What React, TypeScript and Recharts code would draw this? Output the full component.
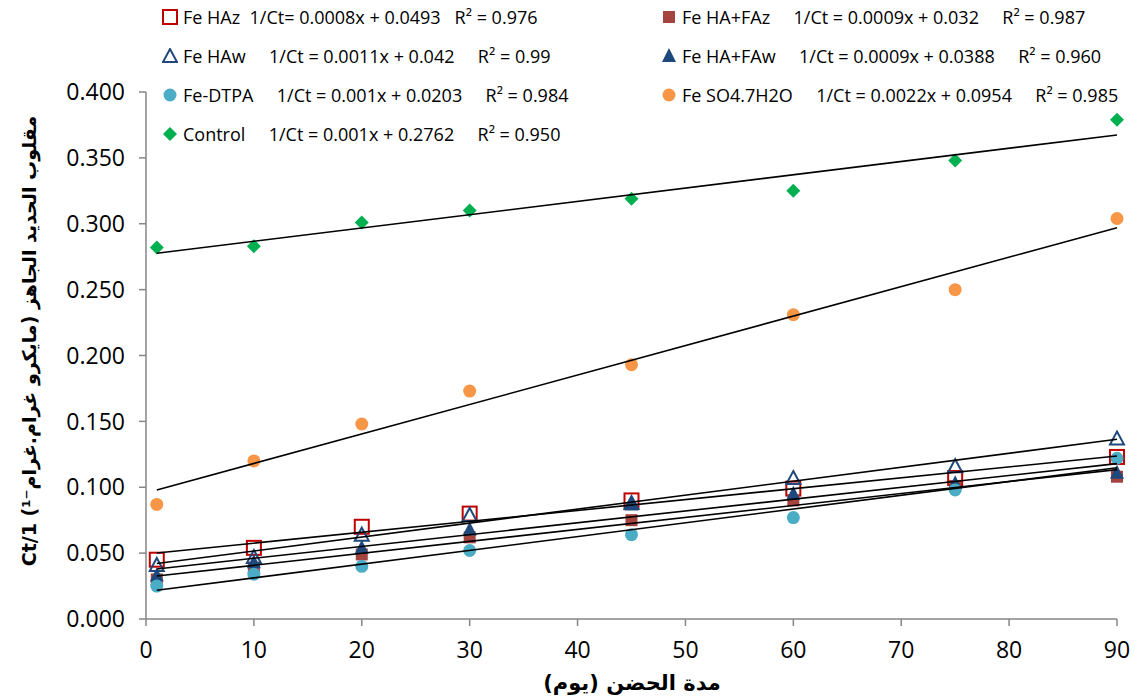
import React from "react";
import { Scatter, ScatterChart, XAxis, YAxis } from "recharts";

// incubation days
const days = [1, 10, 20, 30, 45, 60, 75, 90];

// 1/Ct values per treatment
const feHAz = [0.045, 0.054, 0.070, 0.080, 0.090, 0.099, 0.107, 0.123];
const feHAFAz = [0.030, 0.039, 0.049, 0.062, 0.075, 0.090, 0.101, 0.108];
const feHAw = [0.041, 0.047, 0.064, 0.079, 0.088, 0.107, 0.116, 0.137];
const feHAFAw = [0.033, 0.043, 0.054, 0.068, 0.087, 0.095, 0.103, 0.111];
const feDTPA = [0.025, 0.034, 0.040, 0.052, 0.064, 0.077, 0.098, 0.122];
const feSO4 = [0.087, 0.120, 0.148, 0.173, 0.193, 0.231, 0.250, 0.304];
const control = [0.282, 0.283, 0.301, 0.310, 0.319, 0.325, 0.348, 0.379];

const xTicks = [0, 10, 20, 30, 40, 50, 60, 70, 80, 90];
const yTicks = [0, 0.05, 0.1, 0.15, 0.2, 0.25, 0.3, 0.35, 0.4];

type Kind = "openSquare" | "square" | "openTriangle" | "triangle" | "circle" | "diamond";

type Series = {
  key: string;
  label: string;
  values: number[];
  color: string;
  kind: Kind;
};

// order = Excel series order (legend row by row)
const series: Series[] = [
  { key: "hazz", label: "Fe HAz  1/Ct= 0.0008x + 0.0493   R² = 0.976", values: feHAz, color: "#C00000", kind: "openSquare" },
  { key: "hafaz", label: "Fe HA+FAz     1/Ct = 0.0009x + 0.032     R² = 0.987", values: feHAFAz, color: "#A5433F", kind: "square" },
  { key: "haw", label: "Fe HAw     1/Ct = 0.0011x + 0.042     R² = 0.99", values: feHAw, color: "#1F497D", kind: "openTriangle" },
  { key: "hafaw", label: "Fe HA+FAw     1/Ct = 0.0009x + 0.0388     R² = 0.960", values: feHAFAw, color: "#1F497D", kind: "triangle" },
  { key: "dtpa", label: "Fe-DTPA     1/Ct = 0.001x + 0.0203     R² = 0.984", values: feDTPA, color: "#4BACC6", kind: "circle" },
  { key: "so4", label: "Fe SO4.7H2O     1/Ct = 0.0022x + 0.0954     R² = 0.985", values: feSO4, color: "#F79646", kind: "circle" },
  { key: "ctrl", label: "Control     1/Ct = 0.001x + 0.2762     R² = 0.950", values: control, color: "#00B050", kind: "diamond" },
];

const toPoints = (vals: number[]) => vals.map((y, i) => ({ x: days[i], y }));

// least squares trendline, like excel
function trend(vals: number[]) {
  const n = days.length;
  const mx = days.reduce((a, b) => a + b, 0) / n;
  const my = vals.reduce((a, b) => a + b, 0) / n;
  let sxy = 0;
  let sxx = 0;
  days.forEach((x, i) => {
    sxy += (x - mx) * (vals[i] - my);
    sxx += (x - mx) * (x - mx);
  });
  const b = sxy / sxx;
  const a = my - b * mx;
  const x0 = days[0];
  const x1 = days[n - 1];
  return [
    { x: x0, y: a + b * x0 },
    { x: x1, y: a + b * x1 },
  ];
}

function Marker({ kind, color, cx, cy }: { kind: Kind; color: string; cx: number; cy: number }) {
  switch (kind) {
    case "openSquare":
      return <rect x={cx - 7} y={cy - 7} width={14} height={14} fill="none" stroke={color} strokeWidth={2} />;
    case "square":
      return <rect x={cx - 6} y={cy - 6} width={12} height={12} fill={color} />;
    case "openTriangle":
      return (
        <polygon
          points={`${cx},${cy - 7} ${cx + 7},${cy + 6} ${cx - 7},${cy + 6}`}
          fill="none"
          stroke={color}
          strokeWidth={2}
        />
      );
    case "triangle":
      return <polygon points={`${cx},${cy - 8} ${cx + 7},${cy + 6} ${cx - 7},${cy + 6}`} fill={color} />;
    case "circle":
      return <circle cx={cx} cy={cy} r={6.5} fill={color} />;
    case "diamond":
      return <polygon points={`${cx},${cy - 7} ${cx + 7},${cy} ${cx},${cy + 7} ${cx - 7},${cy}`} fill={color} />;
  }
}

const legendLeft = [series[0], series[2], series[4], series[6]];
const legendRight = [series[1], series[3], series[5]];
const rowY = [17, 56, 95, 134];

function LegendColumn({ items, left }: { items: Series[]; left: number }) {
  return (
    <>
      {items.map((s, i) => (
        <div
          key={s.key}
          style={{
            position: "absolute",
            left: left - 10,
            top: rowY[i] - 13,
            height: 26,
            display: "flex",
            alignItems: "center",
            whiteSpace: "pre",
            fontFamily: "'Open Sans', sans-serif",
            fontSize: 18,
            color: "#000",
          }}
        >
          <svg width={16} height={16} style={{ marginRight: 5 }}>
            <Marker kind={s.kind} color={s.color} cx={8} cy={8} />
          </svg>
          <span>{s.label}</span>
        </div>
      ))}
    </>
  );
}

const axisColor = "#868686";
const tickStyle = { fill: "#000", fontSize: 23, fontFamily: "'Open Sans', sans-serif" };

export default function App() {
  return (
    <div style={{ position: "relative", width: 1135, height: 699, background: "#fff" }}>
      <style>{"body{margin:0}"}</style>
      <ScatterChart width={1135} height={699} margin={{ top: 92, right: 18, bottom: 0, left: 0 }}>
        <XAxis
          type="number"
          dataKey="x"
          domain={[0, 90]}
          ticks={xTicks}
          height={80}
          tickSize={7}
          tickMargin={16}
          stroke={axisColor}
          strokeWidth={1.5}
          tick={tickStyle}
          label={{
            content: () => (
              <text
                x={632}
                y={683}
                textAnchor="middle"
                dominantBaseline="central"
                style={{ direction: "rtl" }}
                fontFamily="'DejaVu Sans', sans-serif"
                fontWeight="bold"
                fontSize={21}
                fill="#000"
              >
                مدة الحضن (يوم)
              </text>
            ),
          }}
        />
        <YAxis
          type="number"
          dataKey="y"
          domain={[0, 0.4]}
          ticks={yTicks}
          width={146}
          tickSize={7}
          tickMargin={14}
          stroke={axisColor}
          strokeWidth={1.5}
          tick={tickStyle}
          tickFormatter={(v: number) => v.toFixed(3)}
          label={{
            content: () => (
              <text
                x={29}
                y={341}
                transform="rotate(-90, 29, 341)"
                textAnchor="middle"
                dominantBaseline="central"
                style={{ direction: "rtl" }}
                fontFamily="'DejaVu Sans', sans-serif"
                fontWeight="bold"
                fontSize={19}
                fill="#000"
              >
                مقلوب الحديد الجاهز (مايكرو غرام.غرام⁻¹)  1/Ct
              </text>
            ),
          }}
        />
        {series.map((s) => (
          <Scatter
            key={s.key}
            data={toPoints(s.values)}
            isAnimationActive={false}
            shape={(p: any) => <Marker kind={s.kind} color={s.color} cx={p.cx} cy={p.cy} />}
          />
        ))}
        {series.map((s) => (
          <Scatter
            key={s.key + "-fit"}
            data={trend(s.values)}
            isAnimationActive={false}
            line={{ stroke: "#000", strokeWidth: 1.6 }}
            shape={() => <g />}
          />
        ))}
      </ScatterChart>
      <LegendColumn items={legendLeft} left={172} />
      <LegendColumn items={legendRight} left={671} />
    </div>
  );
}
